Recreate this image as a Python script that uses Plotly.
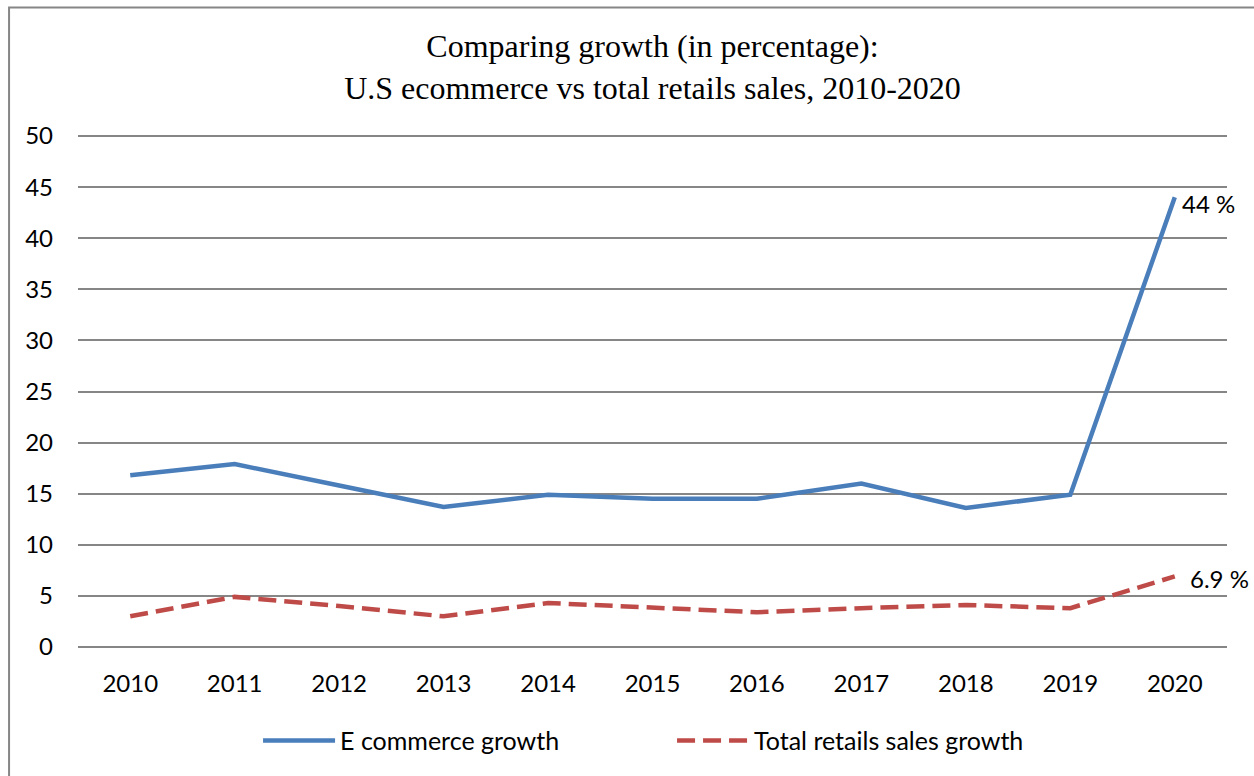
import plotly.graph_objects as go

years = ["2010", "2011", "2012", "2013", "2014", "2015", "2016", "2017", "2018", "2019", "2020"]
ecommerce = [16.8, 17.9, 15.8, 13.7, 14.9, 14.5, 14.5, 16.0, 13.6, 14.9, 44.0]
retail = [3.0, 4.9, 4.0, 3.0, 4.3, 3.9, 3.4, 3.8, 4.1, 3.8, 6.9]
y_ticks = [0, 5, 10, 15, 20, 25, 30, 35, 40, 45, 50]
end_labels = ["44 %", "6.9 %"]

BLUE = "#4A7EBB"
RED = "#BE4B48"
TICKFONT = dict(family="Lato, 'Noto Sans', sans-serif", size=24, color="#000000")
LEGENDFONT = dict(family="Lato, 'Noto Sans', sans-serif", size=25, color="#000000")

fig = go.Figure()
fig.add_trace(go.Scatter(
    x=years, y=ecommerce, mode="lines", name="E commerce growth",
    line=dict(color=BLUE, width=4.5),
))
fig.add_trace(go.Scatter(
    x=years, y=retail, mode="lines", name="Total retails sales growth",
    line=dict(color=RED, width=4.5, dash="18px,8px"),
))

last = len(years) - 1  # category index of the last year
fig.add_annotation(x=last, y=ecommerce[-1], text=end_labels[0], showarrow=False,
                   xanchor="left", yanchor="middle", xshift=5, yshift=-6,
                   font=TICKFONT)
fig.add_annotation(x=last, y=retail[-1], text=end_labels[1], showarrow=False,
                   xanchor="left", yanchor="middle", xshift=13, yshift=-2,
                   font=TICKFONT)

# outer chart border
fig.add_shape(type="rect", xref="paper", yref="paper",
              x0=-0.06, x1=1.2, y0=-0.5, y1=1.2456,
              line=dict(color="#868686", width=2), fillcolor="rgba(0,0,0,0)",
              layer="below")

fig.update_layout(
    width=1254, height=776,
    paper_bgcolor="white", plot_bgcolor="white",
    margin=dict(l=78, r=27, t=134, b=125),
    title=dict(
        text="Comparing growth (in percentage):<br>U.S ecommerce vs total retails sales, 2010-2020",
        font=dict(family="'Liberation Serif', 'Times New Roman', serif", size=32, color="#000000"),
        x=0.5, xanchor="center", xref="paper",
        y=1 - 57 / 776, yanchor="middle", yref="container",
    ),
    xaxis=dict(
        type="category", range=[-0.5, 10.5], showgrid=False, zeroline=False,
        showline=False, ticks="", tickfont=TICKFONT, ticklabelstandoff=18,
    ),
    yaxis=dict(
        range=[-0.2, 50.2], tickvals=y_ticks, showgrid=True, gridcolor="#868686",
        gridwidth=2, zeroline=False, showline=False, ticks="",
        tickfont=TICKFONT, ticklabelstandoff=24,
    ),
    legend=dict(
        orientation="h", x=0.1567, xanchor="left", y=-0.178, yanchor="middle",
        font=LEGENDFONT, itemwidth=72, entrywidth=327, bgcolor="rgba(0,0,0,0)",
    ),
    showlegend=True,
)

fig.write_html("out.html")
